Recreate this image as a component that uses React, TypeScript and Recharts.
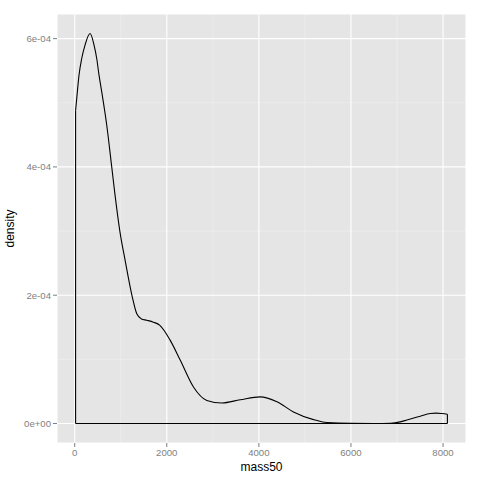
import React from 'react';
import { ComposedChart, Line, XAxis, YAxis, CartesianGrid, ReferenceLine } from 'recharts';

const massValues = [19, 57, 93, 152, 224, 333, 420, 478, 528, 587, 696, 804, 876, 980, 1093, 1245, 1348, 1450, 1565, 1710, 1850, 2072, 2291, 2579, 2870, 3196, 3594, 4029, 4391, 4752, 5187, 5478, 6000, 6500, 6858, 7066, 7218, 7507, 7724, 7850, 7980, 8095];
const densityValues = [4.88e-4, 5.17e-4, 5.43e-4, 5.69e-4, 5.9e-4, 6.08e-4, 5.9e-4, 5.69e-4, 5.43e-4, 5.17e-4, 4.65e-4, 4.0e-4, 3.56e-4, 3.0e-4, 2.55e-4, 1.99e-4, 1.71e-4, 1.63e-4, 1.61e-4, 1.58e-4, 1.53e-4, 1.3e-4, 0.99e-4, 0.57e-4, 0.36e-4, 0.32e-4, 0.37e-4, 0.415e-4, 0.34e-4, 0.18e-4, 0.06e-4, 0.015e-4, 0.002e-4, 0.001e-4, 0.005e-4, 0.025e-4, 0.055e-4, 0.114e-4, 0.155e-4, 0.162e-4, 0.155e-4, 0.145e-4];

const xTicks = [0, 2000, 4000, 6000, 8000];
const xMinor = [1000, 3000, 5000, 7000];
const yTicks = [0, 2e-4, 4e-4, 6e-4];
const yMinor = [1e-4, 3e-4, 5e-4];

const data = massValues.map((m, i) => ({ mass: m, density: densityValues[i] }));

const xMin = Math.min(...massValues);
const xMax = Math.max(...massValues);
const yMax = Math.max(...densityValues);
const xPad = (xMax - xMin) * 0.05;
const yPad = yMax * 0.05;

const fmtExp = (v: number) => {
  const [m, e] = v.toExponential(0).split('e');
  const sign = e[0] === '-' ? '-' : '+';
  const digits = e.replace(/[+-]/, '').padStart(2, '0');
  return `${m}e${sign}${digits}`;
};

const tickStyle = { fill: '#7F7F7F', fontSize: 9.6, fontFamily: 'Liberation Sans, Arial, sans-serif' };

export default function App() {
  const first = data[0];
  const last = data[data.length - 1];
  return (
    <div style={{ position: 'absolute', left: 0, top: 0, width: 480, height: 480, background: '#fff' }}>
      <ComposedChart width={480} height={480} data={data} margin={{ top: 14, right: 14, bottom: 0, left: 0 }}>
        <CartesianGrid fill="#E5E5E5" stroke="#F2F2F2" strokeWidth={0.55} verticalValues={xMinor} horizontalValues={yMinor} />
        <CartesianGrid stroke="#FFFFFF" strokeWidth={1.1} />
        <XAxis
          dataKey="mass"
          type="number"
          domain={[xMin - xPad, xMax + xPad]}
          allowDataOverflow
          ticks={xTicks}
          height={37}
          axisLine={false}
          tickSize={4}
          tickMargin={2}
          tickLine={{ stroke: '#7F7F7F', strokeWidth: 1 }}
          tick={tickStyle}
          label={{
            content: () => (
              <text x={261.5} y={467} textAnchor="middle" dominantBaseline="central" fontSize={12} fill="#000" fontFamily="Liberation Sans, Arial, sans-serif">mass50</text>
            ),
          }}
        />
        <YAxis
          type="number"
          domain={[-yPad, yMax + yPad]}
          allowDataOverflow
          ticks={yTicks}
          width={57}
          axisLine={false}
          tickSize={4}
          tickMargin={2}
          tickLine={{ stroke: '#7F7F7F', strokeWidth: 1 }}
          tick={tickStyle}
          tickFormatter={fmtExp}
          label={{
            content: () => (
              <text x={10} y={228.5} transform="rotate(-90 10 228.5)" textAnchor="middle" dominantBaseline="central" fontSize={12} fill="#000" fontFamily="Liberation Sans, Arial, sans-serif">density</text>
            ),
          }}
        />
        <ReferenceLine segment={[{ x: first.mass, y: 0 }, { x: last.mass, y: 0 }]} stroke="#000" strokeWidth={1.1} />
        <ReferenceLine segment={[{ x: first.mass, y: 0 }, { x: first.mass, y: first.density }]} stroke="#000" strokeWidth={1.1} />
        <ReferenceLine segment={[{ x: last.mass, y: 0 }, { x: last.mass, y: last.density }]} stroke="#000" strokeWidth={1.1} />
        <Line dataKey="density" type="monotone" dot={false} stroke="#000" strokeWidth={1.1} isAnimationActive={false} />
      </ComposedChart>
    </div>
  );
}
